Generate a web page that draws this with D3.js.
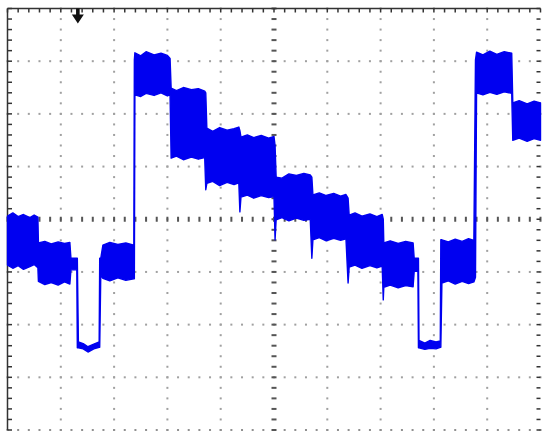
<!DOCTYPE html>
<html>
<head>
<meta charset="utf-8">
<script src="https://cdn.jsdelivr.net/npm/d3@7"></script>
<style>
  html, body { margin: 0; padding: 0; background: #ffffff; }
  svg { display: block; }
</style>
</head>
<body>
<div id="chart"></div>
<script>
// ---- Data (time and voltage in screen divisions) ----
const xDivisions = [0, 1, 2, 3, 4, 5, 6, 7, 8, 9, 10];
const yDivisions = [-4, -3, -2, -1, 0, 1, 2, 3, 4];
const triggerTime = 1.32;

// Envelope of the noisy trace: time, upper edge, lower edge
const timeDiv = [
  0.00, 0.10, 0.20, 0.30, 0.42, 0.50, 0.57,
  0.58, 0.70, 0.82, 0.95, 1.07, 1.17,
  1.19, 1.30,
  1.31, 1.33, 1.42, 1.51, 1.62, 1.72,
  1.73, 1.75,
  1.79, 1.92, 2.07, 2.22, 2.37,
  2.38, 2.39, 2.50, 2.60, 2.75, 2.88, 3.00, 3.05,
  3.07, 3.17, 3.30, 3.45, 3.58, 3.70, 3.72,
  3.74, 3.85, 3.98, 4.12, 4.25, 4.34, 4.36,
  4.38, 4.50, 4.62, 4.76, 4.90, 5.00, 5.02,
  5.04, 5.15, 5.28, 5.42, 5.56, 5.68, 5.71,
  5.73, 5.85, 5.98, 6.12, 6.25, 6.35, 6.39,
  6.41, 6.52, 6.65, 6.80, 6.93, 7.03, 7.05,
  7.06, 7.18, 7.33, 7.47, 7.61,
  7.63, 7.70,
  7.71, 7.72, 7.83, 7.93, 8.04, 8.12,
  8.13,
  8.15, 8.27, 8.40, 8.53, 8.65, 8.75,
  8.78, 8.80, 8.92, 9.05, 9.18, 9.32, 9.46,
  9.48, 9.60, 9.75, 9.88, 10.00
];
const upperDiv = [
  0.06, 0.12, 0.05, 0.09, 0.03, 0.08, 0.04,
  -0.45, -0.42, -0.47, -0.43, -0.46, -0.44,
  -0.74, -0.74,
  -0.74, -2.33, -2.36, -2.42, -2.37, -2.33,
  -0.74, -0.74,
  -0.49, -0.44, -0.48, -0.45, -0.49,
  3.02, 3.16, 3.10, 3.18, 3.12, 3.15, 3.11, 3.05,
  2.49, 2.44, 2.50, 2.46, 2.48, 2.43, 2.40,
  1.73, 1.67, 1.74, 1.69, 1.72, 1.75, 1.68,
  1.56, 1.60, 1.55, 1.59, 1.54, 1.57, 1.40,
  0.80, 0.78, 0.86, 0.83, 0.87, 0.84, 0.80,
  0.46, 0.50, 0.45, 0.49, 0.44, 0.47, 0.40,
  0.08, 0.12, 0.06, 0.10, 0.05, 0.09, 0.00,
  -0.45, -0.41, -0.46, -0.42, -0.45,
  -0.74, -0.74,
  -0.74, -2.30, -2.35, -2.30, -2.33, -2.31,
  -0.39,
  -0.39, -0.43, -0.38, -0.42, -0.37, -0.40,
  3.02, 3.17, 3.12, 3.19, 3.13, 3.18, 3.15,
  2.21, 2.25, 2.19, 2.24, 2.21
];
const lowerDiv = [
  -0.87, -0.93, -0.88, -0.95, -0.90, -0.86, -0.92,
  -1.18, -1.24, -1.20, -1.25, -1.19, -1.23,
  -0.96, -0.96,
  -2.44, -2.44, -2.46, -2.52, -2.46, -2.43,
  -2.43, -1.06,
  -1.12, -1.17, -1.11, -1.16, -1.13,
  -1.13, 2.36, 2.33, 2.39, 2.35, 2.40, 2.34, 2.36,
  1.16, 1.20, 1.13, 1.18, 1.14, 1.17, 0.56,
  0.68, 0.72, 0.64, 0.70, 0.66, 0.69, 0.14,
  0.42, 0.46, 0.40, 0.45, 0.41, 0.43, -0.39,
  -0.01, 0.03, -0.03, 0.02, -0.02, 0.00, -0.74,
  -0.39, -0.35, -0.41, -0.36, -0.40, -0.37, -1.21,
  -0.91, -0.87, -0.93, -0.88, -0.92, -0.89, -1.53,
  -1.29, -1.25, -1.30, -1.26, -1.28,
  -0.99, -0.99,
  -2.44, -2.44, -2.47, -2.45, -2.46, -2.43,
  -2.43,
  -1.21, -1.17, -1.23, -1.18, -1.22, -1.19,
  -1.10, 2.40, 2.36, 2.41, 2.37, 2.42, 2.39,
  1.50, 1.54, 1.48, 1.53, 1.50
];

// ---- Layout ----
const W = 542, H = 432;
const svg = d3.select("#chart").append("svg").attr("width", W).attr("height", H);
svg.append("rect").attr("width", W).attr("height", H).attr("fill", "#ffffff");

const x = d3.scaleLinear().domain([0, 10]).range([7.5, 540.5]);
const y = d3.scaleLinear().domain([-4, 4]).range([430, 8.5]);

const minorX = d3.range(0, 10.0001, 0.2);
const minorY = d3.range(-4, 4.0001, 0.2);

const grid = svg.append("g");
// dotted vertical grid lines
xDivisions.filter(d => d > 0 && d < 10 && d !== 5).forEach(d => {
  grid.selectAll(null).data(minorY).enter().append("rect")
    .attr("x", x(d) - 1).attr("y", v => y(v) - 1)
    .attr("width", 2).attr("height", 2).attr("fill", "#a0a0a0");
});
// dotted horizontal grid lines (bottom edge included)
yDivisions.filter(d => d < 4 && d !== 0).forEach(d => {
  grid.selectAll(null).data(minorX).enter().append("rect")
    .attr("x", t => x(t) - 1).attr("y", y(d) - 1)
    .attr("width", 2).attr("height", 2).attr("fill", d === -4 ? "#909090" : "#a0a0a0");
});
// centre cross with tick dashes
grid.selectAll(null).data(minorY).enter().append("rect")
  .attr("x", x(5) - 2.5).attr("y", v => y(v) - 1)
  .attr("width", 5).attr("height", 2).attr("fill", "#555");
grid.selectAll(null).data(minorX).enter().append("rect")
  .attr("x", t => x(t) - 1).attr("y", y(0) - 2.5)
  .attr("width", 2).attr("height", 5).attr("fill", "#555");

// borders
const border = svg.append("g").attr("stroke", "#333").attr("stroke-width", 1.5);
border.append("line").attr("x1", x(0)).attr("x2", x(0)).attr("y1", y(4)).attr("y2", y(-4));
border.append("line").attr("x1", x(0)).attr("x2", x(10)).attr("y1", y(4)).attr("y2", y(4));
border.selectAll(null).data(minorY).enter().append("line")
  .attr("x1", x(0)).attr("x2", x(0) + 4.5).attr("y1", v => y(v)).attr("y2", v => y(v));
border.selectAll(null).data(minorX).enter().append("line")
  .attr("x1", t => x(t)).attr("x2", t => x(t)).attr("y1", y(4)).attr("y2", y(4) + 4);
border.selectAll(null).data(minorY).enter().append("line")
  .attr("x1", x(10) - 4).attr("x2", x(10)).attr("y1", v => y(v)).attr("y2", v => y(v));

// ---- Trace ----
const pts = timeDiv.map((t, i) => ({ t, hi: upperDiv[i], lo: lowerDiv[i] }));
const area = d3.area()
  .x(d => x(d.t))
  .y0(d => y(d.lo))
  .y1(d => y(d.hi));
svg.append("path").datum(pts)
  .attr("d", area)
  .attr("fill", "#0000f0")
  .attr("stroke", "#0000f0")
  .attr("stroke-width", 1.4)
  .attr("stroke-linejoin", "round");

// ---- Trigger marker ----
const tx = x(triggerTime), ty = y(4);
svg.append("path")
  .attr("d", `M${tx - 1.8},${ty} L${tx + 1.8},${ty} L${tx + 1.8},${ty + 6} L${tx + 6},${ty + 6} L${tx},${ty + 15} L${tx - 6},${ty + 6} L${tx - 1.8},${ty + 6} Z`)
  .attr("fill", "#111");
</script>
</body>
</html>
